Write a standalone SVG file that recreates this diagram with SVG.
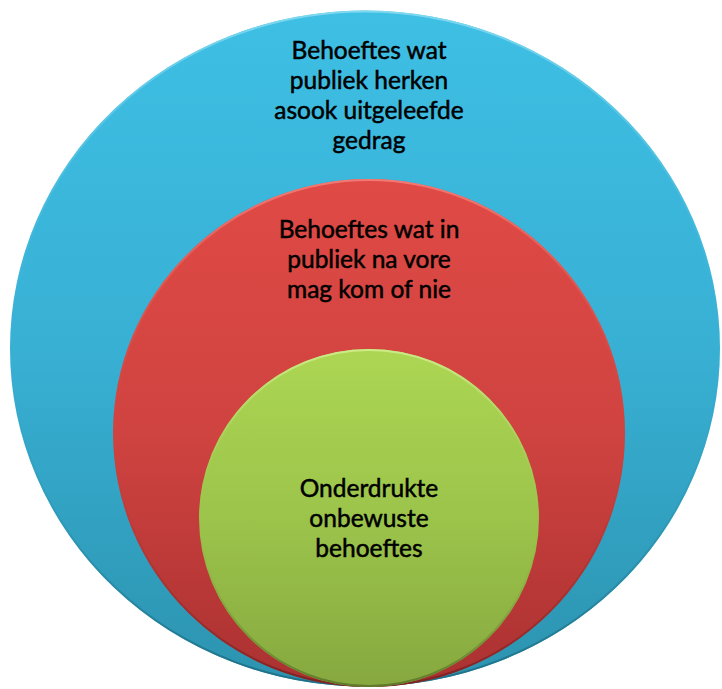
<svg xmlns="http://www.w3.org/2000/svg" width="722" height="689" viewBox="0 0 722 689">
<style>
.lbl{font-family:Lato,"Liberation Sans",sans-serif;font-size:24.5px;fill:#000;stroke:#000;stroke-width:0.5;text-anchor:middle}
.rim{fill:none;stroke-width:2}
</style>
<defs>
<linearGradient id="gB" x1="0" y1="0" x2="0" y2="1">
<stop offset="0" stop-color="#3EBFE4"/><stop offset="0.5" stop-color="#38B0D4"/><stop offset="1" stop-color="#2C93AF"/>
</linearGradient>
<linearGradient id="gR" x1="0" y1="0" x2="0" y2="1">
<stop offset="0" stop-color="#E04A46"/><stop offset="0.5" stop-color="#CF4340"/><stop offset="1" stop-color="#AA3131"/>
</linearGradient>
<linearGradient id="gG" x1="0" y1="0" x2="0" y2="1">
<stop offset="0" stop-color="#ACD653"/><stop offset="0.5" stop-color="#9CC44B"/><stop offset="1" stop-color="#86A83F"/>
</linearGradient>
<linearGradient id="rimB" x1="0" y1="0" x2="0" y2="1">
<stop offset="0" stop-color="#7FD8F0"/><stop offset="0.5" stop-color="#38B0D4" stop-opacity="0"/><stop offset="1" stop-color="#1E6F86"/>
</linearGradient>
<linearGradient id="rimR" x1="0" y1="0" x2="0" y2="1">
<stop offset="0" stop-color="#F27A74"/><stop offset="0.5" stop-color="#CF4340" stop-opacity="0"/><stop offset="1" stop-color="#7E2222"/>
</linearGradient>
<linearGradient id="rimG" x1="0" y1="0" x2="0" y2="1">
<stop offset="0" stop-color="#CDEB86"/><stop offset="0.5" stop-color="#9CC44B" stop-opacity="0"/><stop offset="1" stop-color="#5F7A2A"/>
</linearGradient>
</defs>
<g id="outer">
<ellipse cx="365" cy="348.5" rx="355" ry="338" fill="url(#gB)"/>
<ellipse class="rim" cx="365" cy="348.5" rx="354" ry="337" stroke="url(#rimB)"/>
<text class="lbl"><tspan x="369" y="59">Behoeftes wat</tspan><tspan x="369" y="89">publiek herken</tspan><tspan x="369" y="119">asook uitgeleefde</tspan><tspan x="369" y="149">gedrag</tspan></text>
</g>
<g id="middle">
<ellipse cx="369" cy="433" rx="256" ry="254" fill="url(#gR)"/>
<ellipse class="rim" cx="369" cy="433" rx="255" ry="253" stroke="url(#rimR)"/>
<text class="lbl"><tspan x="369" y="238">Behoeftes wat in</tspan><tspan x="369" y="268">publiek na vore</tspan><tspan x="369" y="298">mag kom of nie</tspan></text>
</g>
<g id="inner">
<ellipse cx="369" cy="518" rx="170" ry="169" fill="url(#gG)"/>
<ellipse class="rim" cx="369" cy="518" rx="169" ry="168" stroke="url(#rimG)"/>
<text class="lbl"><tspan x="369" y="497">Onderdrukte</tspan><tspan x="369" y="527">onbewuste</tspan><tspan x="369" y="557">behoeftes</tspan></text>
</g>
<g id="connectors"/>
</svg>
